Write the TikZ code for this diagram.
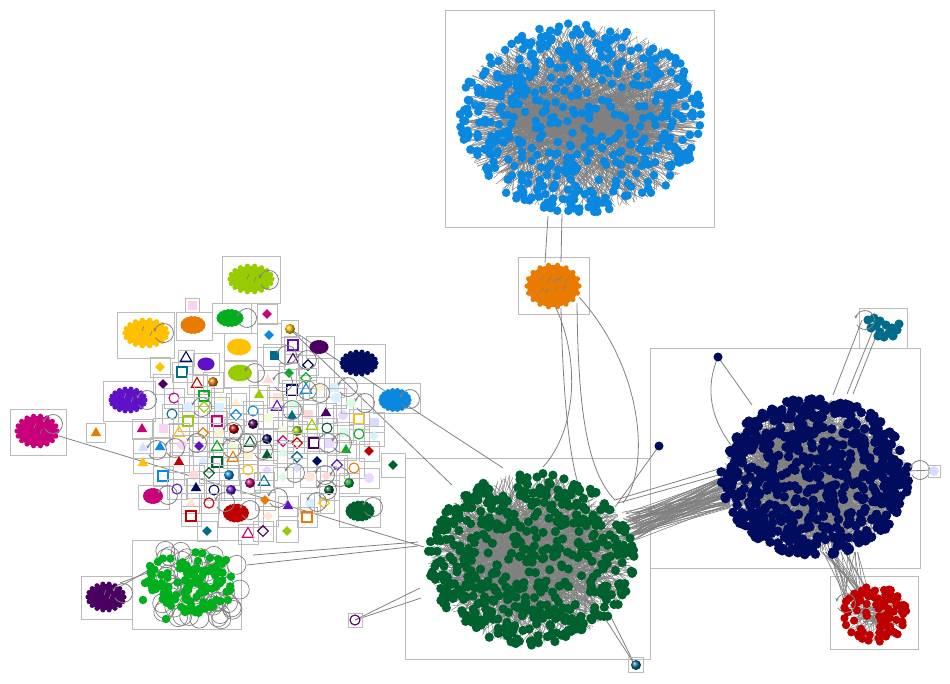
\documentclass[tikz,border=0pt]{standalone}
\usetikzlibrary{shapes.geometric,arrows.meta}
\definecolor{boxG}{HTML}{BBBBBB}
\definecolor{edgeG}{HTML}{808080}
\definecolor{blueC}{HTML}{0A88E0}
\definecolor{orangeC}{HTML}{E87B00}
\definecolor{dgreenC}{HTML}{00602E}
\definecolor{navyC}{HTML}{000C5E}
\definecolor{redC}{HTML}{C00000}
\definecolor{tealC}{HTML}{006C8A}
\definecolor{limeC}{HTML}{99CC00}
\definecolor{yellowC}{HTML}{FFC000}
\definecolor{greenC}{HTML}{00AE1E}
\definecolor{purpleC}{HTML}{6010C8}
\definecolor{dpurpleC}{HTML}{4A0060}
\definecolor{magentaC}{HTML}{C8007A}
\definecolor{pinkL}{HTML}{F8D4F2}
\definecolor{cyanL}{HTML}{D6F0FF}
\definecolor{creamL}{HTML}{FFF0D4}
\definecolor{greenL}{HTML}{D8FBE6}
\definecolor{lavL}{HTML}{E8D8FF}
\definecolor{limeL}{HTML}{F0FCD8}
\definecolor{peachL}{HTML}{FFE4D8}
\definecolor{blueL}{HTML}{D8DCFF}
\definecolor{roseL}{HTML}{FFD8DC}
\tikzset{
  gbox/.style={draw=boxG, line width=0.8pt},
  sbox/.style={rectangle, draw=boxG, line width=0.7pt, inner sep=0pt},
  edge/.style={draw=edgeG, line width=0.8pt},
  cedge/.style={draw=edgeG, line width=0.45pt},
  loopst/.style={draw=edgeG, line width=0.8pt},
  fdia/.style={diamond, fill=#1, inner sep=0pt, minimum size=10pt},
  odia/.style={diamond, draw=#1, line width=1.1pt, inner sep=0pt, minimum size=11pt},
  ftri/.style={regular polygon, regular polygon sides=3, fill=#1, inner sep=0pt, minimum size=12pt},
  otri/.style={regular polygon, regular polygon sides=3, draw=#1, line width=1.1pt, inner sep=0pt, minimum size=13pt},
  fsq/.style={rectangle, fill=#1, inner sep=0pt, minimum size=9pt},
  osq/.style={rectangle, draw=#1, line width=1.1pt, inner sep=0pt, minimum size=10pt},
  fcir/.style={circle, fill=#1, inner sep=0pt, minimum size=10pt},
  ocir/.style={circle, draw=#1, line width=1.1pt, inner sep=0pt, minimum size=10pt},
  sph/.style={circle, ball color=#1, inner sep=0pt, minimum size=10pt},
}
% item with its square frame: [frame size]{name}{x}{y}{shape style}
\newcommand\itm[5][20]{\node[sbox,minimum size=#1pt] (#2b) at (#3,#4) {};\node[#5] (#2) at (#3,#4) {};}
% solid blob: {name}{x}{y}{rx}{ry}{colour}
\newcommand\blob[6]{%
  \coordinate (#1) at (#2,#3);
  \fill[#6] (#2,#3) ellipse [x radius=#4pt, y radius=#5pt];
  \foreach \an in {0,20,...,340}{\fill[#6] ({#2+#4*cos(\an)},{#3+#5*sin(\an)}) circle (2.6pt);}}
% self loop circle centred at x,y
\newcommand\lpc[2]{\draw[loopst,-{Stealth[length=3.5pt,width=3.5pt]},shift={(#1,#2)}] (-150:9.5pt) arc[start angle=-150,end angle=172,radius=9.5pt];}
% cluster edges: cx cy rx ry n hubrx hubry
\newcommand\clusterE[7]{%
  \foreach \k in {1,...,#5}{%
    \pgfmathsetmacro\aa{360*rnd}%
    \pgfmathsetmacro\rr{0.55+0.45*sqrt(rnd)}%
    \pgfmathsetmacro\hx{#6*(2*rnd-1)}%
    \pgfmathsetmacro\hy{#7*(2*rnd-1)}%
    \draw[cedge] ({#1+#3*\rr*cos(\aa)},{#2+#4*\rr*sin(\aa)}) -- ({#1+\hx},{#2+\hy});}}
% cluster dots: cx cy rx ry n colour radius exponent
\newcommand\clusterD[8]{%
  \foreach \k in {1,...,#5}{%
    \pgfmathsetmacro\aa{360*rnd}%
    \pgfmathsetmacro\rr{pow(0.002+rnd,#8)}%
    \fill[#6] ({#1+#3*\rr*cos(\aa)},{#2+#4*\rr*sin(\aa)}) circle (#7pt);}}
\begin{document}
\begin{tikzpicture}[x=1pt,y=-1pt]
\useasboundingbox (0,0) rectangle (950,683);
\pgfmathsetseed{4242}
% ---------------- group frames
\draw[gbox] (445,10) rectangle (714,227);
\draw[gbox] (518,257) rectangle (589,314);
\draw[gbox] (405,458) rectangle (650,659);
\draw[gbox] (650,348) rectangle (920,568);
\draw[gbox] (830,576) rectangle (918,649);
\draw[gbox] (859,308) rectangle (907,348);
\draw[gbox] (132,540) rectangle (241,629);
\draw[gbox] (81,576) rectangle (132,619);
\draw[gbox] (10,409) rectangle (66,455);
\draw[gbox] (222,256) rectangle (280,303);
\draw[gbox] (117,312) rectangle (174,358);
\draw[gbox] (176,312) rectangle (212,340);
\draw[gbox] (212,303) rectangle (251,333);
\draw[gbox] (224,333) rectangle (257,360);
\draw[gbox] (306,336) rectangle (334,358);
\draw[gbox] (334,344) rectangle (385,383);
\draw[gbox] (193,353) rectangle (219,375);
\draw[gbox] (224,361) rectangle (257,387);
\draw[gbox] (103,381) rectangle (155,421);
\draw[gbox] (373,383) rectangle (420,413);
\draw[gbox] (138,485) rectangle (169,509);
\draw[gbox] (218,498) rectangle (263,527);
\draw[gbox] (339,496) rectangle (380,527);
% ---------------- named end points
\coordinate (magR) at (59,436);
\coordinate (gcA) at (424,547);
\coordinate (gcB) at (503,468);
\coordinate (gcC) at (452,485);
\coordinate (gcD) at (418,542);
\coordinate (gcE) at (418,546);
\coordinate (gcF) at (420,588);
\coordinate (gcG) at (421,598);
\coordinate (gcH) at (606,620);
\coordinate (gcI) at (611,617);
\coordinate (gcJ) at (615,507);
\coordinate (scA) at (253,555);
\coordinate (scB) at (247,565);
\coordinate (scC) at (147,573);
\coordinate (scD) at (152,568);
\coordinate (dpA) at (120,583);
\coordinate (dpB) at (121,586);
\coordinate (orT1) at (545,263);
\coordinate (orT2) at (561,262);
\coordinate (blB1) at (548,216);
\coordinate (blB2) at (562,214);
\coordinate (nvDot) at (718,357);
\coordinate (nvDot2) at (659,446);
% ---------------- connectors
\draw[edge] (magR) -- (gcA);
\draw[edge] (290,329) -- (gcB);
\draw[edge] (290,329) -- (gcC);
\draw[edge] (scA) -- (gcD);
\draw[edge] (scB) -- (gcE);
\draw[edge] (dpA) -- (scC);
\draw[edge] (dpB) -- (scD);
\draw[edge] (355,620) -- (gcF);
\draw[edge] (355,620) -- (gcG);
\draw[edge] (635,665) -- (gcH);
\draw[edge] (635,665) -- (gcI);
\draw[edge] (nvDot2) -- (gcJ);
\draw[edge] (orT1) -- (blB1);
\draw[edge] (orT2) -- (blB2);
\draw[edge] (556,308) .. controls (580,360) and (577,430) .. (543,467);
\draw[edge] (561,308) .. controls (563,400) and (570,470) .. (583,497);
\draw[edge] (577,303) .. controls (578,400) and (585,470) .. (615,500);
\draw[edge] (579,297) .. controls (645,370) and (650,470) .. (623,503);
\draw[edge] (nvDot) .. controls (704,390) and (712,420) .. (731,445);
\draw[edge] (nvDot) -- (752,405);
\draw[edge] (833,395) -- (862,320);
\draw[edge] (847,394) -- (873,330);
\draw[edge] (853,394) -- (878,331);
\draw[edge] (908,471) -- (934,470);
\draw[edge] (615,500) -- (722,468);
\draw[edge] (618,503) -- (722,474);
\foreach \k in {1,...,70}{%
  \pgfmathsetmacro\ya{512+30*rnd}\pgfmathsetmacro\yb{474+34*rnd}\pgfmathsetmacro\xa{622+18*rnd}
  \draw[edge,line width=0.6pt] (\xa,\ya) -- (730,\yb);}
\foreach \k in {1,...,26}{%
  \pgfmathsetmacro\xa{820+38*rnd}\pgfmathsetmacro\xb{843+28*rnd}\pgfmathsetmacro\yb{590+14*rnd}
  \draw[edge,line width=0.6pt] (\xa,552) -- (\xb,\yb);}
% ---------------- big clusters
\clusterE{581}{118}{122}{95}{1100}{80}{14}
\clusterD{581}{118}{122}{95}{330}{blueC}{4.3}{0.3}
\clusterD{581}{118}{122}{95}{170}{blueC}{4.3}{0.6}
\clusterE{531}{559}{103}{86}{1050}{65}{40}
\clusterD{531}{559}{103}{86}{340}{dgreenC}{4.6}{0.3}
\clusterD{531}{559}{103}{86}{190}{dgreenC}{4.6}{0.6}
\clusterE{815}{477}{94}{79}{1100}{60}{50}
\clusterD{815}{477}{94}{79}{380}{navyC}{4.8}{0.3}
\clusterD{815}{477}{94}{79}{260}{navyC}{4.8}{0.6}
\clusterE{875}{614}{33}{28}{110}{16}{12}
\clusterD{875}{614}{33}{28}{95}{redC}{4.1}{0.35}
\fill[navyC] (nvDot) circle (4.5pt);
\fill[navyC] (nvDot2) circle (4.5pt);
% teal cluster
\foreach \px/\py in {868/320,874/318,880/321,876/326,871/328,886/325,892/328,897/330,889/333,884/337,880/332,893/336,899/324,878/336}{\fill[tealC] (\px,\py) circle (4.6pt);}
\lpc{865}{320}
\lpc{920}{470}
\lpc{846}{603}
% orange cluster
\blob{orC}{553}{286}{26}{21}{orangeC}
\foreach \k in {1,...,14}{\pgfmathsetmacro\xa{540+26*rnd}\pgfmathsetmacro\ya{278+16*rnd}\draw[cedge] (\xa,\ya) -- ++(3,-4);}
% ---------------- scattered green cluster
\foreach \k in {1,...,60}{%
  \pgfmathsetmacro\lx{160+80*rnd}\pgfmathsetmacro\ly{548+72*rnd}
  \draw[loopst,line width=0.7pt] (\lx,\ly) circle (9.5pt);}
\foreach \k in {1,...,115}{%
  \pgfmathsetmacro\aa{360*rnd}\pgfmathsetmacro\rr{sqrt(rnd)}
  \fill[greenC] ({190+42*\rr*cos(\aa)},{582+32*\rr*sin(\aa)}) circle (4.2pt);}
\foreach \px/\py in {143/600,145/583,166/619,185/612,150/566,226/560,228/600}{\fill[greenC] (\px,\py) circle (4.2pt);}
% ---------------- blobs
\blob{bMag}{37}{431}{20}{15}{magentaC}
\blob{bDp}{106}{597}{18}{13}{dpurpleC}
\blob{bLime}{251}{279}{21}{13}{limeC}
\blob{bYel}{146}{333}{21}{13}{yellowC}
\blob{bOr}{193}{325}{10}{6.5}{orangeC}
\blob{bGr}{230}{318}{11}{6.5}{greenC}
\blob{bYel2}{239}{347}{9.5}{6}{yellowC}
\blob{bDp2}{319}{347}{7}{4.5}{dpurpleC}
\blob{bNv}{359}{363}{17}{11}{navyC}
\blob{bPu2}{206}{364}{6}{4}{purpleC}
\blob{bLime2}{240}{373}{9.5}{6}{limeC}
\blob{bPu}{128}{400}{17}{11}{purpleC}
\blob{bBl}{395}{400}{14}{9.5}{blueC}
\blob{bMag2}{153}{496}{7.5}{5.5}{magentaC}
\blob{bRed}{236}{513}{10.5}{7}{redC}
\blob{bDg}{360}{511}{12}{8}{dgreenC}
\foreach \px/\py in {34/428,40/434,247/279,254/282,142/331,150/336,124/398,131/402,104/595,109/599}{\draw[cedge,line width=0.6pt] (\px,\py) -- ++(2,-5);}
% ---------------- small items
\itm[14]{a4}{192}{305}{fsq=pinkL}
\itm{a1}{267}{314}{fdia=magentaC}
\itm[24]{a2}{269}{335}{fdia=blueC}
\itm[17]{a3}{290}{329}{sph=yellowC}
\itm[22]{a5}{274}{355}{fsq=tealC}
\itm[18]{a6}{293}{345}{osq=purpleC}
\itm[18]{a7}{293}{360}{otri=dpurpleC}
\itm{a8}{308}{365}{odia=navyC}
\itm[16]{a9}{186}{358}{otri=navyC}
\itm{a10}{160}{367}{fdia=yellowC}
\itm{a11}{182}{372}{osq=tealC}
\itm{a12}{163}{384}{fdia=dpurpleC}
\itm{a13}{197}{384}{otri=redC}
\itm{a14}{213}{382}{sph=orangeC}
\itm{a15}{289}{373}{fdia=greenC}
\itm{a16}{306}{378}{odia=greenC}
\itm{a17}{268}{380}{ftri=roseL}
\itm{a18}{292}{390}{osq=navyC}
\itm{a19}{306}{390}{otri=blueC}
\itm{a20}{319}{387}{fcir=creamL}
\itm{a21}{334}{387}{fsq=cyanL}
\itm{a22}{174}{398}{ocir=magentaC}
\itm{a23}{204}{396}{osq=greenC}
\itm{a24}{221}{398}{ftri=limeL}
\itm{a25}{236}{403}{ftri=creamL}
\itm{a26}{259}{395}{ftri=limeC}
\itm{a27}{277}{397}{fsq=peachL}
\itm{a28}{293}{404}{fsq=greenL}
\itm{a29}{277}{407}{otri=purpleC}
\itm{a30}{172}{414}{ocir=tealC}
\itm{a31}{188}{407}{fcir=cyanL}
\itm{a32}{204}{407}{odia=limeC}
\itm{a33}{219}{407}{fsq=cyanL}
\itm{a34}{236}{415}{odia=blueC}
\itm{a35}{253}{411}{ocir=blueC}
\itm{a36}{268}{418}{fcir=limeL}
\itm{a37}{292}{416}{ftri=tealC}
\itm{a38}{308}{414}{fsq=roseL}
\itm{a39}{326}{413}{ftri=dpurpleC}
\itm{a40}{343}{415}{fcir=lavL}
\itm{a41}{359}{419}{osq=yellowC}
\itm{a42}{374}{422}{fsq=blueL}
\itm{a43}{336}{398}{fcir=cyanL}
\itm{a44}{351}{403}{fcir=greenL}
\itm{a45}{142}{429}{ftri=magentaC}
\itm{a46}{163}{428}{fsq=pinkL}
\itm{a47}{188}{421}{osq=limeC}
\itm{a48}{217}{421}{osq=magentaC}
\itm{a49}{179}{433}{otri=yellowC}
\itm{a50}{203}{433}{odia=orangeC}
\itm{a51}{219}{433}{fcir=creamL}
\itm{a52}{234}{429}{sph=redC}
\itm{a53}{253}{424}{sph=dpurpleC}
\itm{a54}{283}{430}{fsq=limeL}
\itm{a55}{297}{431}{sph=limeC}
\itm{a56}{312}{426}{otri=limeC}
\itm{a57}{327}{428}{ocir=dgreenC}
\itm{a58}{343}{432}{fsq=greenL}
\itm{a59}{359}{434}{ocir=greenC}
\itm{a60}{374}{436}{fdia=cyanL}
\itm{a61}{143}{448}{ftri=blueL}
\itm{a62}{160}{447}{ftri=blueC}
\itm{a63}{182}{445}{fcir=pinkL}
\itm{a64}{199}{446}{fdia=purpleC}
\itm{a65}{217}{447}{otri=greenC}
\itm{a66}{233}{447}{fcir=limeL}
\itm{a67}{250}{443}{otri=dgreenC}
\itm{a68}{267}{439}{sph=navyC}
\itm{a69}{283}{441}{odia=magentaC}
\itm{a70}{297}{443}{odia=redC}
\itm{a71}{314}{443}{osq=dpurpleC}
\itm{a72}{329}{443}{fsq=lavL}
\itm{a73}{346}{450}{ftri=greenC}
\itm{a74}{369}{451}{fdia=redC}
\itm[24]{a75}{393}{465}{fdia=dgreenC}
\itm{a76}{143}{463}{ftri=yellowC}
\itm{a77}{179}{462}{ftri=redC}
\itm{a78}{203}{461}{fdia=cyanL}
\itm{a79}{217}{462}{osq=dgreenC}
\itm{a80}{233}{458}{otri=orangeC}
\itm{a81}{248}{454}{fsq=creamL}
\itm{a82}{267}{455}{ftri=dgreenC}
\itm{a83}{283}{453}{ftri=greenL}
\itm{a84}{297}{457}{odia=tealC}
\itm{a85}{317}{461}{fdia=navyC}
\itm{a86}{337}{465}{odia=purpleC}
\itm{a87}{354}{468}{ocir=orangeC}
\itm{a88}{369}{478}{fcir=lavL}
\itm{a89}{163}{476}{osq=blueC}
\itm{a90}{194}{475}{fcir=roseL}
\itm{a91}{209}{473}{odia=dgreenC}
\itm{a92}{229}{475}{sph=blueC}
\itm{a93}{248}{470}{ocir=yellowC}
\itm{a94}{267}{470}{fdia=lavL}
\itm{a95}{297}{468}{fdia=blueL}
\itm{a96}{283}{477}{fdia=greenL}
\itm{a97}{310}{477}{fcir=peachL}
\itm{a98}{326}{476}{fdia=roseL}
\itm{a99}{329}{490}{sph=dgreenC}
\itm{a100}{349}{483}{sph=greenC}
\itm{a101}{264}{482}{otri=tealC}
\itm{a102}{250}{483}{sph=magentaC}
\itm{a103}{196}{488}{ftri=navyC}
\itm{a104}{214}{490}{ocir=navyC}
\itm{a105}{231}{490}{sph=purpleC}
\itm{a106}{177}{489}{ocir=purpleC}
\itm{a107}{191}{503}{ftri=peachL}
\itm{a108}{209}{503}{ocir=redC}
\itm{a109}{265}{500}{fdia=orangeC}
\itm{a110}{288}{506}{ftri=purpleC}
\itm{a111}{310}{503}{fcir=cyanL}
\itm{a112}{324}{503}{odia=yellowC}
\itm{a113}{191}{516}{osq=redC}
\itm{a114}{268}{516}{fdia=peachL}
\itm{a115}{307}{517}{osq=orangeC}
\itm{a116}{207}{531}{fdia=tealC}
\itm{a117}{248}{534}{otri=magentaC}
\itm{a118}{263}{531}{odia=dpurpleC}
\itm[22]{a119}{287}{531}{fdia=limeC}
\itm[19]{a120}{96}{433}{ftri=orangeC}
\itm[14]{a121}{355}{620}{ocir=dpurpleC}
\itm[15]{a122}{636}{665}{sph=tealC}
\itm[12]{a123}{934}{471}{fcir=blueL}
% ---------------- self loops
\foreach \px/\py in {247/318,255/373,147/400,410/399,373/507,250/510,168/495,53/424,123/593,164/333,269/280,
  287/355,307/360,283/382,307/390,320/393,348/387,365/403,292/410,328/443,342/443,295/473,325/475,340/477,
  202/407,233/432,157/450,175/448,197/443,232/448,247/443,263/450,278/498,225/502,317/502,327/490}{\lpc{\px}{\py}}
\end{tikzpicture}
\end{document}
